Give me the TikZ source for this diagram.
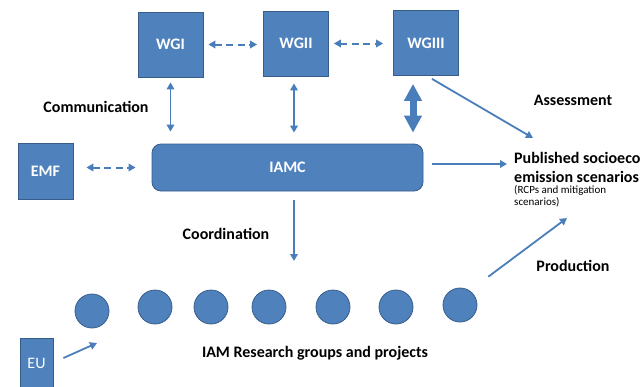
\documentclass[tikz,border=0pt]{standalone}
\usepackage{fontspec}
\setmainfont{Carlito}
\usetikzlibrary{arrows.meta}
\definecolor{boxblue}{HTML}{4F81BD}
\definecolor{boxline}{HTML}{385D8A}
\definecolor{arrowblue}{HTML}{4A7EBB}

\begin{document}
\begin{tikzpicture}[x=1pt, y=-1pt,
		wgbox/.style={draw=boxline, fill=boxblue, line width=0.8pt, inner sep=0pt, minimum width=65pt, minimum height=65pt, text=white, font=\fontsize{16}{19}\selectfont\bfseries},
		groupdot/.style={circle, draw=boxline, fill=boxblue, line width=0.8pt, inner sep=0pt, minimum size=34pt},
		labeltext/.style={font=\fontsize{16}{19}\selectfont\bfseries},
		link/.style={draw=arrowblue, line width=1.8pt, -{Triangle[length=7pt,width=7.5pt]}},
		twoway/.style={link, {Triangle[length=7pt,width=7.5pt]}-{Triangle[length=7pt,width=7.5pt]}},
		dashlink/.style={twoway, line width=2pt, dash pattern=on 7pt off 4.5pt},
		bigarrow/.style={draw=arrowblue, line width=7pt, {Triangle[length=17pt,width=17pt]}-{Triangle[length=17pt,width=17pt]}}]
		\useasboundingbox (0,0) rectangle (644,386);

		\node [wgbox] (wg1) at (170.5,44.5) {WGI};
		\node [wgbox] (wg2) at (296,43.5) {WGII};
		\node [wgbox] (wg3) at (426,43) {WGIII};
		\node [wgbox, minimum width=55pt, minimum height=56pt] (emf) at (45.5,171) {EMF};
		\node [wgbox, rounded corners=9pt, minimum width=271pt, minimum height=47pt] (iamc) at (287.5,167.5) {IAMC};
		\node [wgbox, minimum width=33pt, minimum height=49pt, font=\fontsize{16}{19}\selectfont] (eu) at (36.5,363) {EU};

		% research groups
		\foreach \x/\y [count=\i] in {92/311, 155/307, 211/307, 269/307, 333/307, 396/307, 460/305}
			\node [groupdot] (g\i) at (\x,\y) {};

		\node [labeltext] (comm) at (96,107) {Communication};
		\node [labeltext] (assess) at (573,100) {Assessment};
		\node [labeltext] (coord) at (226,234) {Coordination};
		\node [labeltext] (prod) at (573,266) {Production};
		\node [labeltext] (iam) at (315,353) {IAM Research groups and projects};
		\node [labeltext, anchor=west, align=left, inner sep=0pt] (pub) at (514,167) {Published socioeco\\emission scenarios};
		\node [anchor=north west, align=left, inner sep=0pt, font=\fontsize{11}{12}\selectfont] (rcp) at ([yshift=-3pt]pub.south west) {(RCPs and mitigation\\scenarios)};

		\coordinate (asIn) at (533,138);
		\coordinate (pubIn) at (507,164);
		\coordinate (coordIn) at (294,261);
		\coordinate (euOut) at (97,343);
		\coordinate (prodIn) at (567,218);

		\draw [dashlink, shorten <=5pt, shorten >=6pt] (wg1.east) -- (wg2.west |- wg1.east);
		\draw [dashlink, shorten <=5pt, shorten >=10pt] (wg2.east) -- (wg3.west |- wg2.east);
		\draw [dashlink, shorten <=13pt, shorten >=16pt] (emf.east |- iamc.west) -- (iamc.west);

		\draw [twoway, shorten <=5pt, shorten >=12pt] (wg1.south) -- (wg1.south |- iamc.north);
		\draw [twoway, shorten <=7pt, shorten >=11pt] ([xshift=-2pt]wg2.south) -- ([xshift=-2pt]wg2.south |- iamc.north);
		\draw [bigarrow, shorten <=8pt, shorten >=11pt] ([xshift=-13pt]wg3.south) -- ([xshift=-13pt]wg3.south |- iamc.north);

		\draw [link] (wg3.south) ++(6,3) -- (asIn);
		\draw [link, shorten <=9pt] (iamc.east |- pubIn) -- (pubIn);
		\draw [link, shorten <=9pt] (iamc.south -| coordIn) -- (coordIn);
		\draw [link] (eu.east) ++(10,-5) -- (euOut);
		\draw [link] (g7.north east) ++(16,-16) -- (prodIn);
	\end{tikzpicture}
\end{document}
